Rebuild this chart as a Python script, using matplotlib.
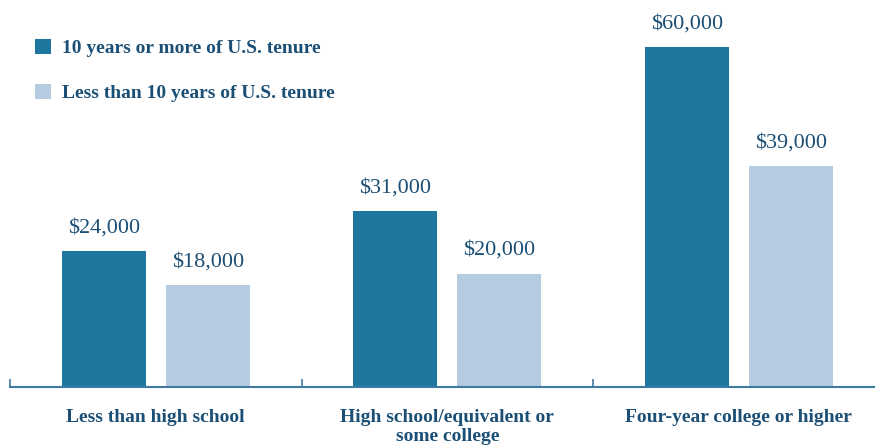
import matplotlib
matplotlib.use("Agg")
import matplotlib.pyplot as plt
import numpy as np

categories = ["Less than high school", "High school/equivalent or\nsome college", "Four-year college or higher"]
series_names = ["10 years or more of U.S. tenure", "Less than 10 years of U.S. tenure"]
long_tenure = [24000, 31000, 60000]
short_tenure = [18000, 20000, 39000]

dark = "#1f77a0"
light = "#b5cbdf"
text_c = "#1b4f75"
serif = ["Liberation Serif", "DejaVu Serif"]

fig = plt.figure(figsize=(8.75, 4.45), dpi=100)
ax = fig.add_axes([10/875, 58/445, 865/875, 387/445])

x = np.arange(len(categories))
w = 0.288
off = 0.178
b1 = ax.bar(x - off, long_tenure, w, color=dark, label=series_names[0])
b2 = ax.bar(x + off, short_tenure, w, color=light, label=series_names[1])

for bars, vals in ((b1, long_tenure), (b2, short_tenure)):
    for r, v in zip(bars, vals):
        ax.annotate(f"${v:,}", (r.get_x() + r.get_width()/2, v), xytext=(0, 10),
                    textcoords="offset points", ha="center", va="bottom",
                    fontsize=16, color=text_c, family=serif)

ax.set_xlim(-0.5, -0.5 + 865/291.5)
ax.set_ylim(0, 387/5.667*1000)
for s in ("top", "right", "left"):
    ax.spines[s].set_visible(False)
ax.spines["bottom"].set_color("#3f7aa0")
ax.spines["bottom"].set_linewidth(1.5)
ax.set_yticks([])
ax.set_xticks([-0.5, 0.5, 1.5])
ax.set_xticklabels([])
ax.tick_params(axis="x", direction="in", length=6, width=1.2, color="#3f7aa0")
for i, c in enumerate(categories):
    ax.text(i, -0.056, c, transform=ax.get_xaxis_transform(), ha="center", va="top",
            fontsize=14, fontweight="bold", color=text_c, family=serif, linespacing=1.2)

leg = ax.legend(loc="upper left", bbox_to_anchor=(0.009, 0.945), frameon=False,
                handlelength=0.8, handleheight=0.8, handletextpad=0.55, labelspacing=1.4,
                prop={"family": serif, "weight": "bold", "size": 14})
for t in leg.get_texts():
    t.set_color(text_c)

fig.savefig("out.png", dpi=100)
